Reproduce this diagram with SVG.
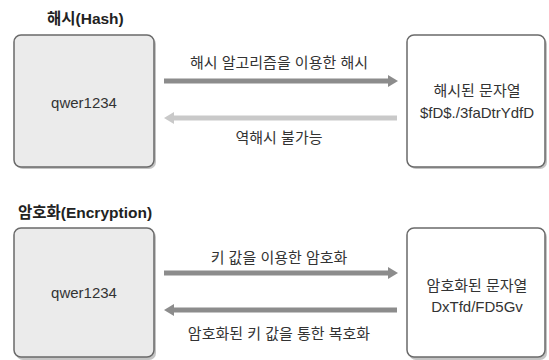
<svg xmlns="http://www.w3.org/2000/svg" width="549" height="360" viewBox="0 0 549 360">
<defs>
<style>
text{font-family:"Liberation Sans","Noto Sans CJK KR",sans-serif;fill:#333;}
.title{font-size:15.5px;font-weight:bold;fill:#222;}
.lbl{font-size:15px;}
.in{font-size:15px;}
.box{stroke:#6a6a6a;stroke-width:1.5;}
.src{fill:#ebebeb;}
.dst{fill:#ffffff;}
.shadow{fill:#c4c4c4;}
.dark{stroke:#8c8c8c;stroke-width:5;fill:none;}
.light{stroke:#c9c9c9;stroke-width:5;fill:none;}
</style>
<marker id="hd" viewBox="0 0 10 12" refX="2" refY="6" markerWidth="10" markerHeight="12" markerUnits="userSpaceOnUse" orient="auto"><path d="M0,0 L10,6 L0,12 z" fill="#8c8c8c"/></marker>
<marker id="hl" viewBox="0 0 10 12" refX="2" refY="6" markerWidth="10" markerHeight="12" markerUnits="userSpaceOnUse" orient="auto"><path d="M0,0 L10,6 L0,12 z" fill="#c9c9c9"/></marker>
</defs>
<rect width="549" height="360" fill="#fff"/>
<text class="title" x="47" y="24">해시(Hash)</text>
<text class="title" x="18" y="218">암호화(Encryption)</text>
<g id="hash-src">
<rect class="shadow" x="16" y="37" width="140" height="132" rx="7"/>
<rect class="box src" x="14" y="35" width="140" height="132" rx="7"/>
<text class="in" x="84" y="108" text-anchor="middle">qwer1234</text>
</g>
<g id="hash-dst">
<rect class="shadow" x="409" y="37" width="138" height="132" rx="7"/>
<rect class="box dst" x="407" y="35" width="138" height="132" rx="7"/>
<text class="in" x="477" y="96" text-anchor="middle">해시된 문자열</text>
<text class="in" x="477" y="118" text-anchor="middle">$fD$./3faDtrYdfD</text>
</g>
<g id="enc-src">
<rect class="shadow" x="16" y="230" width="140" height="130" rx="7"/>
<rect class="box src" x="14" y="228" width="140" height="129" rx="7"/>
<text class="in" x="84" y="298" text-anchor="middle">qwer1234</text>
</g>
<g id="enc-dst">
<rect class="shadow" x="409" y="230" width="138" height="130" rx="7"/>
<rect class="box dst" x="407" y="228" width="138" height="129" rx="7"/>
<text class="in" x="477" y="291" text-anchor="middle">암호화된 문자열</text>
<text class="in" x="477" y="312" text-anchor="middle">DxTfd/FD5Gv</text>
</g>
<g id="connectors">
<line class="dark" x1="164" y1="81" x2="390" y2="81" marker-end="url(#hd)"/>
<text class="lbl" x="279" y="68" text-anchor="middle">해시 알고리즘을 이용한 해시</text>
<line class="light" x1="397" y1="118" x2="172" y2="118" marker-end="url(#hl)"/>
<text class="lbl" x="279" y="143" text-anchor="middle">역해시 불가능</text>
<line class="dark" x1="164" y1="273" x2="390" y2="273" marker-end="url(#hd)"/>
<text class="lbl" x="279" y="263" text-anchor="middle">키 값을 이용한 암호화</text>
<line class="dark" x1="397" y1="310" x2="172" y2="310" marker-end="url(#hd)"/>
<text class="lbl" x="279" y="339" text-anchor="middle">암호화된 키 값을 통한 복호화</text>
</g>
</svg>
